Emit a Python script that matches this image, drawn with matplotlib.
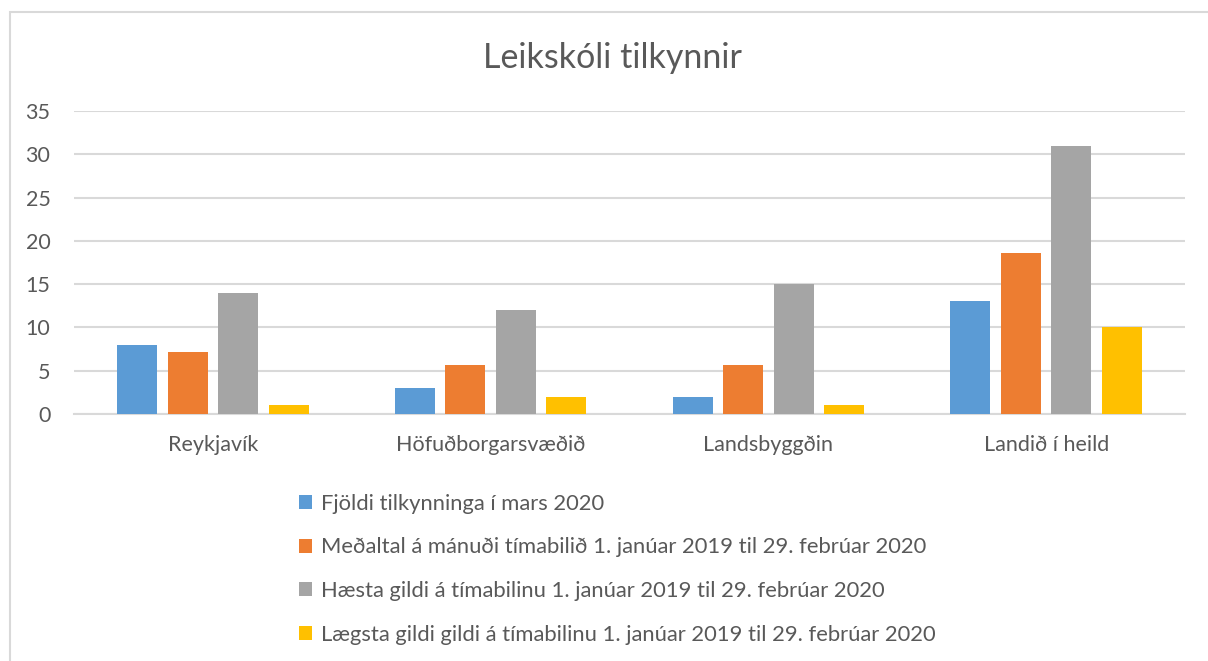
import matplotlib.pyplot as plt
import numpy as np
from matplotlib.patches import Rectangle

# --------------------------------------------------------------------------- #
# Data
# --------------------------------------------------------------------------- #
categories = ["Reykjavík", "Höfuðborgarsvæðið", "Landsbyggðin", "Landið í heild"]
series_names = [
    "Fjöldi tilkynninga í mars 2020",
    "Meðaltal á mánuði tímabilið 1. janúar 2019 til 29. febrúar 2020",
    "Hæsta gildi á tímabilinu 1. janúar 2019 til 29. febrúar 2020",
    "Lægsta gildi gildi á tímabilinu 1. janúar 2019 til 29. febrúar 2020",
]
fjoldi_mars = [8, 3, 2, 13]
medaltal = [7.2, 5.7, 5.7, 18.6]
haesta = [14, 12, 15, 31]
laegsta = [1, 2, 1, 10]
yticks = [0, 5, 10, 15, 20, 25, 30, 35]

colors = ["#5B9BD5", "#ED7D31", "#A5A5A5", "#FFC000"]
TEXT = "#595959"
GRID = "#D9D9D9"

plt.rcParams["font.family"] = ["Lato", "DejaVu Sans"]

fig = plt.figure(figsize=(12.08, 6.61), dpi=100)
ax = fig.add_axes([74 / 1208, 1 - 414 / 661, (1185 - 74) / 1208, (414 - 111) / 661])

x = np.arange(len(categories))
width = 0.144
pitch = 0.182
for i, (vals, name, c) in enumerate(zip([fjoldi_mars, medaltal, haesta, laegsta],
                                        series_names, colors)):
    ax.bar(x + (i - 1.5) * pitch, vals, width, color=c, label=name, zorder=3)

ax.set_xlim(-0.5, len(categories) - 0.5)
ax.set_ylim(0, 35)
ax.set_yticks(yticks)
ax.set_xticks(x)
ax.set_xticklabels(categories)
ax.tick_params(length=0, labelsize=15.5, colors=TEXT)
ax.tick_params(axis="y", pad=17)
ax.tick_params(axis="x", pad=15)
ax.grid(axis="y", color=GRID, linewidth=1.5, zorder=0)
for s in ["left", "right", "top"]:
    ax.spines[s].set_visible(False)
ax.spines["bottom"].set_color(GRID)
ax.spines["bottom"].set_linewidth(1.5)

fig.suptitle("Leikskóli tilkynnir", x=612 / 1208, y=1 - 58 / 661, va="center",
             fontsize=24.5, color=TEXT)

fig.legend(loc="upper left", bbox_to_anchor=(279 / 1208, 1 - 474 / 661),
           frameon=False, fontsize=15.8, labelcolor=TEXT,
           handlelength=0.6, handleheight=0.6, handletextpad=0.4,
           labelspacing=1.08)

# chart frame
fig.add_artist(Rectangle((10 / 1208, -0.1), 1.2, 1.1 - 12 / 661,
                         transform=fig.transFigure, fill=False,
                         edgecolor=GRID, linewidth=1.5))

fig.savefig("out.png", dpi=100)
